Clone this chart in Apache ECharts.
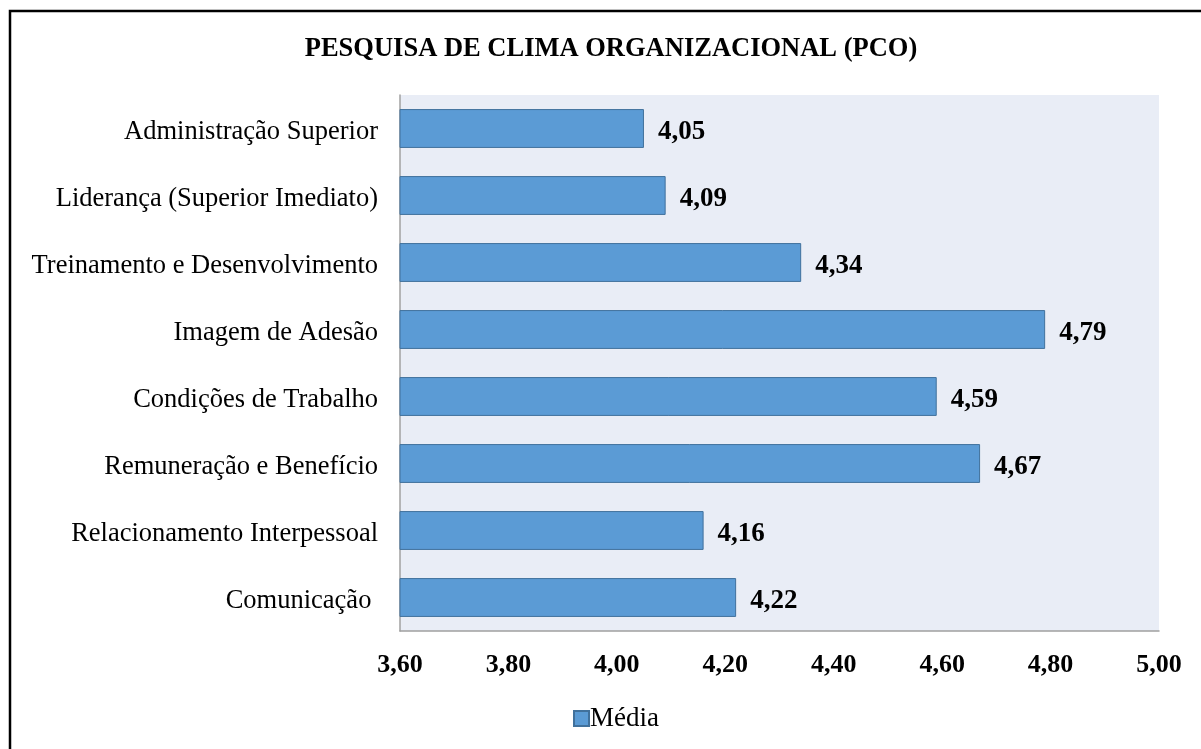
<!DOCTYPE html>
<html>
<head>
<meta charset="utf-8">
<script src="https://cdn.jsdelivr.net/npm/echarts@6/dist/echarts.min.js"></script>
<style>
html,body{margin:0;padding:0;background:#fff;}
#chart{width:1201px;height:749px;}
</style>
</head>
<body>
<div id="chart"></div>
<script>
const titleText = 'PESQUISA DE CLIMA ORGANIZACIONAL (PCO)';
const categories = [
  'Administração Superior',
  'Liderança (Superior Imediato)',
  'Treinamento e Desenvolvimento',
  'Imagem de Adesão',
  'Condições de Trabalho',
  'Remuneração e Benefício',
  'Relacionamento Interpessoal',
  'Comunicação '
];
const seriesName = 'Média';
const values = [4.05, 4.09, 4.34, 4.79, 4.59, 4.67, 4.16, 4.22];
const axisMin = 3.6, axisMax = 5.0, axisStep = 0.2;

const fmt = v => Number(v).toFixed(2).replace('.', ',');
const serif = '"Liberation Serif", "Times New Roman", serif';

const chart = echarts.init(document.getElementById('chart'), null, {renderer: 'canvas'});
chart.setOption({
  animation: false,
  backgroundColor: '#ffffff',
  graphic: [
    {type: 'rect', shape: {x: 10, y: 11, width: 1400, height: 1000}, style: {fill: null, stroke: '#000', lineWidth: 2.5}, silent: true},
    {type: 'text', x: 611, y: 49, style: {text: titleText, font: 'bold 26.5px ' + serif, fill: '#000', textAlign: 'center', textVerticalAlign: 'middle'}}
  ],
  grid: {left: 400, right: 42, top: 95, bottom: 118, show: true, backgroundColor: '#e9edf6', borderWidth: 0, containLabel: false},
  legend: {
    data: [seriesName], left: 568, top: 700, icon: 'rect', itemWidth: 15, itemHeight: 15, itemGap: 4,
    textStyle: {fontFamily: serif, fontSize: 27, color: '#000', padding: [0, 0, 0, -4]}
  },
  xAxis: {
    type: 'value', min: axisMin, max: axisMax, interval: axisStep,
    axisLine: {show: true, lineStyle: {color: '#a0a0a0', width: 1.5}},
    axisTick: {show: false},
    splitLine: {show: false},
    axisLabel: {formatter: fmt, fontFamily: serif, fontSize: 26, fontWeight: 'bold', color: '#000', margin: 21}
  },
  yAxis: {
    type: 'category', data: categories, inverse: true,
    axisLine: {show: true, lineStyle: {color: '#a0a0a0', width: 1.5}},
    axisTick: {show: false},
    axisLabel: {
      margin: 22,
      formatter: v => '{t|' + v + '}',
      rich: {t: {fontFamily: serif, fontSize: 26.5, color: '#000', padding: [7, 0, 0, 0]}}
    }
  },
  series: [{
    name: seriesName, type: 'bar', data: values, barCategoryGap: '42%',
    itemStyle: {color: '#5b9bd5', borderColor: '#41719c', borderWidth: 1},
    label: {show: true, position: 'right', distance: 14, offset: [0, 4], formatter: p => fmt(p.value), fontFamily: serif, fontSize: 27, fontWeight: 'bold', color: '#000'}
  }]
});
</script>
</body>
</html>
